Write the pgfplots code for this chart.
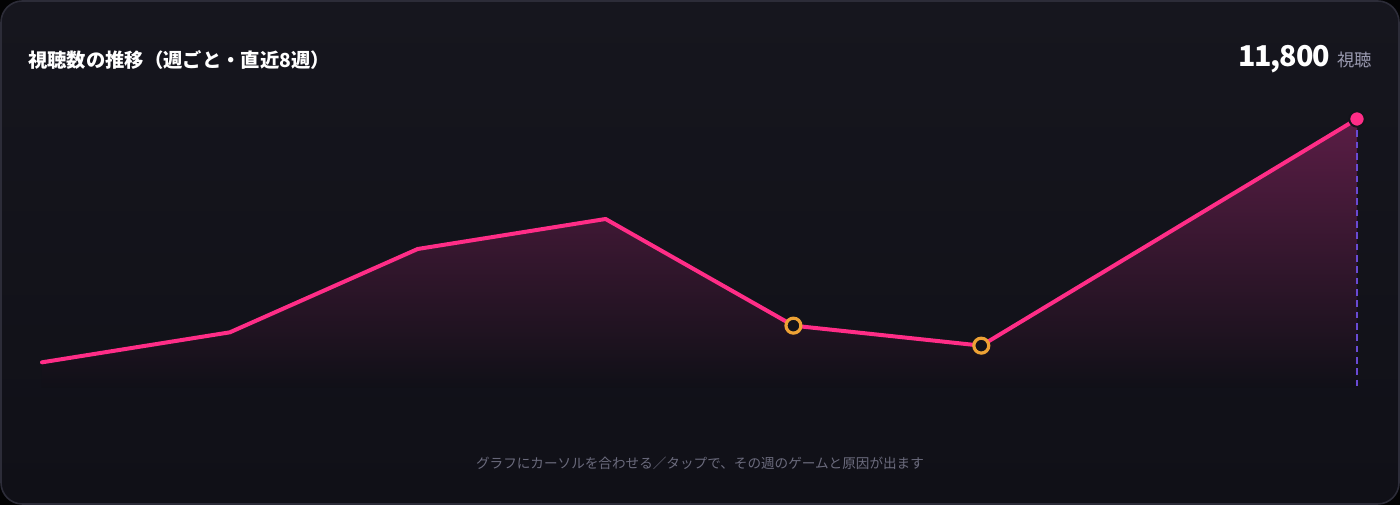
\documentclass[border=0pt]{standalone}
\usepackage{fontspec}
\usepackage{pgfplots}
\pgfplotsset{compat=1.18}
\newfontfamily\cjk{Noto Sans CJK JP}

\definecolor{bgtop}{HTML}{16161E}
\definecolor{bgbot}{HTML}{101017}
\definecolor{bgc}{HTML}{13131A}
\definecolor{framec}{HTML}{2C2C38}
\definecolor{pinkc}{HTML}{FF2D87}
\definecolor{areatop}{HTML}{5A1D45}
\definecolor{orangec}{HTML}{EDA235}
\definecolor{dashc}{HTML}{6A4AD4}
\definecolor{subc}{HTML}{9A9AB0}
\definecolor{hintc}{HTML}{6B6B7D}

% weekly views, last 8 weeks
\pgfplotstableread{
wk views
0  4500
1  5400
2  7900
3  8800
4  5600
5  5000
6  8400
7  11800
}\views

\begin{document}
\begin{tikzpicture}[x=0.75pt,y=0.75pt]
% card, 1 unit = 1 px of the reference
\fill[black!85!bgc] (0,0) rectangle (1400,505);
\shade[top color=bgtop, bottom color=bgbot, draw=framec, line width=1.2pt,
  rounded corners=16pt] (1,1) rectangle (1399,504);

\node[anchor=west, text=white, inner sep=0pt] at (28,445)
  {\cjk\bfseries\fontsize{14.5}{17}\selectfont 視聴数の推移（週ごと・直近8週）};
\node[anchor=base east, text=subc, inner sep=0pt] (u) at (1372,438)
  {\cjk\fontsize{13}{15}\selectfont 視聴};
\node[anchor=base east, text=white, inner sep=0pt] at ([xshift=-5pt]u.base west)
  {\cjk\bfseries\addfontfeatures{LetterSpace=-4}\fontsize{21.5}{24}\selectfont 11,800};
\node[text=hintc, inner sep=0pt] at (700,42)
  {\cjk\fontsize{10.2}{12}\selectfont グラフにカーソルを合わせる／タップで、その週のゲームと原因が出ます};

\begin{axis}[at={(31.5pt,87.75pt)}, anchor=south west,
  scale only axis, width=986.25pt, height=201.75pt,
  xmin=0, xmax=7, ymin=3730, ymax=11800,
  axis lines=none, clip=false]
  \addplot[draw=none, top color=areatop, bottom color=bgbot] table[x=wk,y=views] {\views}
    -- (axis cs:7,3730) -- (axis cs:0,3730);
  \addplot[dashc, line width=1.6pt, dash pattern=on 5pt off 3.5pt] coordinates {(7,11800) (7,3730)};
  \addplot[pinkc, line width=3pt, line join=round, line cap=round] table[x=wk,y=views] {\views};
  \addplot[only marks, mark=*, mark size=5.6pt,
    mark options={draw=orangec, fill=bgc, line width=2.4pt}] coordinates {(4,5600) (5,5000)};
  \addplot[only marks, mark=*, mark size=5.8pt,
    mark options={draw=bgc, fill=pinkc, line width=1.5pt}] coordinates {(7,11800)};
\end{axis}
\end{tikzpicture}
\end{document}
